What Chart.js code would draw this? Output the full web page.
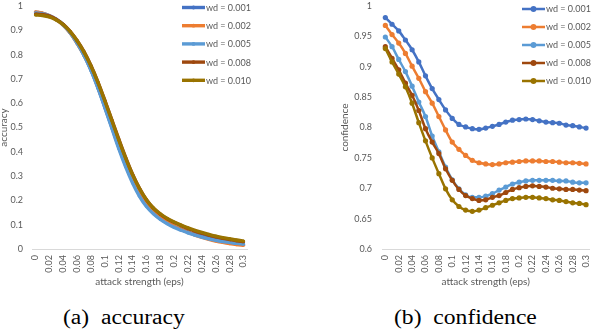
<!DOCTYPE html>
<html>
<head>
<meta charset="utf-8">
<script src="https://cdn.jsdelivr.net/npm/chart.js@4.4.1/dist/chart.umd.min.js"></script>
<style>
  html, body { margin: 0; padding: 0; background: #fff; overflow: hidden; }
  body { width: 592px; height: 330px; position: relative; }
  .box { position: absolute; top: 0; width: 296px; height: 290px; }
  #accBox { left: 0; }
  #confBox { left: 296px; }
  .cap {
    position: absolute; top: 306px; font-family: "Liberation Serif", serif;
    font-size: 20px; color: #000; white-space: nowrap;
  }
</style>
</head>
<body>
<div class="box" id="accBox"><canvas id="acc"></canvas></div>
<div class="box" id="confBox"><canvas id="conf"></canvas></div>
<div class="cap" id="capA" style="left:63px; transform: scaleX(1.18); transform-origin: left;">(a)&nbsp; accuracy</div>
<div class="cap" id="capB" style="left:394px; transform: scaleX(1.18); transform-origin: left;">(b)&nbsp; confidence</div>
<script>
// attack strength (eps), one category per 0.01
const eps = [0, 0.01, 0.02, 0.03, 0.04, 0.05, 0.06, 0.07, 0.08, 0.09, 0.1,
             0.11, 0.12, 0.13, 0.14, 0.15, 0.16, 0.17, 0.18, 0.19, 0.2,
             0.21, 0.22, 0.23, 0.24, 0.25, 0.26, 0.27, 0.28, 0.29, 0.3];

const wdLabels = ['wd = 0.001', 'wd = 0.002', 'wd = 0.005', 'wd = 0.008', 'wd = 0.010'];
const wdColors = ['#4472C4', '#ED7D31', '#5B9BD5', '#9E480E', '#997300'];

// (a) accuracy
const acc001 = [0.975,0.970,0.961,0.946,0.924,0.891,0.849,0.798,0.737,0.664,0.584,0.502,0.420,0.345,0.280,0.224,0.180,0.148,0.125,0.107,0.093,0.081,0.070,0.061,0.054,0.047,0.041,0.036,0.032,0.028,0.025];
const acc002 = [0.976,0.971,0.960,0.944,0.921,0.889,0.846,0.797,0.738,0.667,0.588,0.506,0.425,0.350,0.284,0.228,0.186,0.154,0.130,0.110,0.094,0.080,0.068,0.057,0.048,0.040,0.033,0.027,0.022,0.018,0.015];
const acc005 = [0.972,0.968,0.959,0.944,0.922,0.890,0.847,0.796,0.735,0.663,0.582,0.498,0.414,0.338,0.272,0.217,0.175,0.145,0.122,0.104,0.089,0.077,0.066,0.057,0.049,0.042,0.036,0.031,0.027,0.023,0.020];
const acc008 = [0.967,0.965,0.958,0.945,0.925,0.896,0.858,0.812,0.755,0.688,0.612,0.533,0.453,0.377,0.308,0.250,0.203,0.168,0.143,0.124,0.109,0.096,0.084,0.074,0.065,0.057,0.050,0.044,0.039,0.034,0.030];
const acc010 = [0.963,0.961,0.955,0.942,0.923,0.895,0.857,0.810,0.753,0.686,0.610,0.530,0.450,0.374,0.306,0.249,0.203,0.169,0.145,0.126,0.111,0.098,0.087,0.077,0.068,0.060,0.053,0.047,0.042,0.037,0.033];

// (b) confidence
const conf001 = [0.981,0.970,0.959,0.944,0.928,0.908,0.885,0.864,0.846,0.829,0.815,0.805,0.801,0.798,0.797,0.799,0.802,0.805,0.809,0.812,0.813,0.814,0.813,0.811,0.809,0.808,0.807,0.804,0.803,0.801,0.799];
const conf002 = [0.968,0.953,0.939,0.922,0.901,0.881,0.859,0.840,0.818,0.796,0.776,0.764,0.754,0.746,0.742,0.740,0.739,0.740,0.742,0.743,0.744,0.745,0.745,0.745,0.744,0.744,0.743,0.742,0.742,0.741,0.740];
const conf005 = [0.949,0.933,0.912,0.892,0.868,0.842,0.818,0.786,0.760,0.735,0.714,0.699,0.689,0.685,0.685,0.687,0.691,0.697,0.702,0.707,0.710,0.712,0.713,0.713,0.713,0.713,0.712,0.712,0.710,0.709,0.709];
const conf008 = [0.933,0.914,0.895,0.873,0.853,0.828,0.798,0.776,0.757,0.732,0.713,0.698,0.688,0.683,0.680,0.681,0.685,0.688,0.693,0.698,0.701,0.703,0.704,0.703,0.702,0.700,0.699,0.698,0.698,0.697,0.696];
const conf010 = [0.930,0.908,0.888,0.867,0.840,0.808,0.778,0.750,0.724,0.699,0.681,0.670,0.664,0.662,0.664,0.668,0.672,0.676,0.680,0.683,0.684,0.685,0.685,0.684,0.683,0.681,0.680,0.678,0.676,0.675,0.673];

const accTicks = [0, 0.1, 0.2, 0.3, 0.4, 0.5, 0.6, 0.7, 0.8, 0.9, 1];
const confTicks = [0.6, 0.65, 0.7, 0.75, 0.8, 0.85, 0.9, 0.95, 1];

const textColor = '#595959';
const fontFamily = 'Lato, "Liberation Sans", sans-serif';

// legend drawn inside the plot, like the excel one
const wdLegend = {
    id: 'wdLegend',
    afterDatasetsDraw(chart, args, o) {
        const ctx = chart.ctx;
        ctx.save();
        chart.data.datasets.forEach((ds, i) => {
            const y = o.top + i * o.gap;
            ctx.strokeStyle = ds.borderColor;
            ctx.lineWidth = ds.borderWidth;
            ctx.beginPath();
            ctx.moveTo(o.left, y);
            ctx.lineTo(o.left + o.len, y);
            ctx.stroke();
            ctx.fillStyle = ds.borderColor;
            ctx.beginPath();
            ctx.arc(o.left + o.len / 2, y, ds.pointRadius + 0.3, 0, Math.PI * 2);
            ctx.fill();
            ctx.fillStyle = textColor;
            ctx.font = o.fontSize + 'px ' + fontFamily;
            ctx.textBaseline = 'middle';
            ctx.fillText(ds.label, o.left + o.len + 1, y + 0.5);
        });
        ctx.restore();
    }
};

function makeDatasets(series, lineW, radius) {
    return series.map((d, i) => ({
        label: wdLabels[i],
        data: d,
        borderColor: wdColors[i],
        backgroundColor: wdColors[i],
        borderWidth: lineW,
        pointRadius: radius,
        pointHoverRadius: radius,
        pointBorderWidth: 0,
        cubicInterpolationMode: 'monotone',
        order: series.length - i
    }));
}

function makeChart(id, series, ticks, yTitle, p) {
    return new Chart(document.getElementById(id), {
        type: 'line',
        data: { labels: eps, datasets: makeDatasets(series, p.lineW, p.radius) },
        plugins: [wdLegend],
        options: {
            responsive: true,
            maintainAspectRatio: false,
            animation: false,
            layout: { padding: p.padding },
            plugins: {
                legend: { display: false },
                tooltip: { enabled: false },
                wdLegend: p.legend
            },
            scales: {
                x: {
                    type: 'category',
                    offset: true,
                    grid: { display: false, drawTicks: false },
                    border: { display: true, color: '#D9D9D9', width: 1 },
                    ticks: {
                        autoSkip: false, maxRotation: 90, minRotation: 90,
                        padding: 6, color: textColor,
                        font: { family: fontFamily, size: 9 },
                        callback: (v, i) => i % 2 === 0 ? String(eps[i]) : ''
                    },
                    title: {
                        display: true, text: 'attack strength (eps)', color: textColor,
                        font: { family: fontFamily, size: 10 }, padding: { top: 0, bottom: 2 }
                    },
                    afterFit: a => { a.height = p.xHeight; a.paddingLeft = 0; a.paddingRight = 0; }
                },
                y: {
                    min: ticks[0], max: ticks[ticks.length - 1],
                    grid: { display: false, drawTicks: false },
                    border: { display: false },
                    afterBuildTicks: a => { a.ticks = ticks.map(v => ({ value: v })); },
                    ticks: {
                        padding: p.yPad, color: textColor,
                        font: { family: fontFamily, size: 9 },
                        callback: v => String(v)
                    },
                    title: {
                        display: true, text: yTitle, color: textColor,
                        font: { family: fontFamily, size: 10 }, padding: { top: p.yTitlePad, bottom: 0 }
                    },
                    afterFit: a => { a.width = p.yWidth; a.paddingTop = 0; a.paddingBottom = 0; }
                }
            }
        }
    });
}

makeChart('acc', [acc001, acc002, acc005, acc008, acc010], accTicks, 'accuracy', {
    lineW: 3.4, radius: 1.6,
    padding: { top: 6, right: 49, left: 0, bottom: 0 },
    xHeight: 41, yWidth: 32, yPad: 9, yTitlePad: -2,
    legend: { left: 182, top: 7.5, gap: 18.2, len: 23, fontSize: 9 }
});

makeChart('conf', [conf001, conf002, conf005, conf008, conf010], confTicks, 'confidence', {
    lineW: 2.5, radius: 2.6,
    padding: { top: 6, right: 1, left: 43, bottom: 0 },
    xHeight: 41, yWidth: 43, yPad: 10, yTitlePad: 0,
    legend: { left: 226, top: 9, gap: 18, len: 23, fontSize: 9 }
});
</script>
</body>
</html>
